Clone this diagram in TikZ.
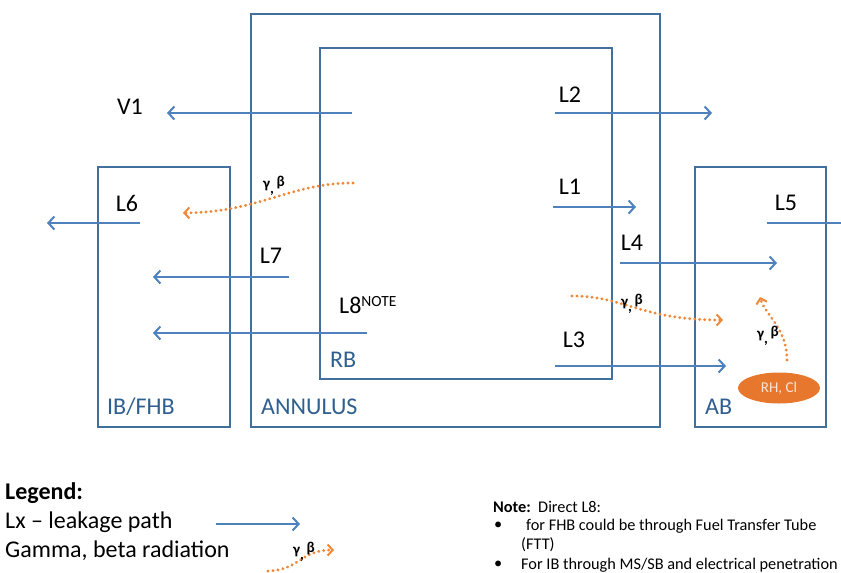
\documentclass[tikz,border=0pt]{standalone}
\usepackage{fontspec}
\setmainfont{Carlito}
\usetikzlibrary{arrows.meta,shapes.geometric}

\definecolor{zoneline}{HTML}{41709F}
\definecolor{leakblue}{HTML}{4F81BD}
\definecolor{zonetext}{HTML}{2F5F8F}
\definecolor{radorange}{HTML}{F0883A}
\definecolor{srcorange}{HTML}{E8772E}

\newcommand{\gammabeta}{γ\raisebox{-0.7ex}{,}\,\raisebox{0.25ex}{β}}

\tikzset{
  zone/.style={draw=zoneline, line width=2.2pt, anchor=north west, inner sep=0pt},
  zonelabel/.style={text=zonetext, anchor=west, font=\fontsize{24}{28}\selectfont, inner sep=0pt},
  pathlabel/.style={text=black, font=\fontsize{24}{28}\selectfont, inner sep=0pt},
  leak/.style={draw=leakblue, line width=2pt, -{Straight Barb[length=6pt,width=13pt,line width=2pt]}},
  rad/.style={draw=radorange, line width=3.2pt, dash pattern=on 0.01pt off 5pt, line cap=round,
    -{Straight Barb[length=5pt,width=11pt,line width=2pt]}},
  gb/.style={font=\fontsize{15}{17}\selectfont\bfseries, inner sep=0pt},
  legendtext/.style={anchor=west, font=\fontsize{24}{28}\selectfont, inner sep=0pt},
  notetext/.style={anchor=west, font=\fontsize{16.3}{19}\selectfont, inner sep=0pt},
}

\begin{document}
\begin{tikzpicture}[x=1pt,y=-1pt]
\useasboundingbox (0,0) rectangle (841,573);
\clip (0,0) rectangle (841,573);

% buildings
\node[zone, minimum width=409pt, minimum height=413pt] (annulus) at (250,13) {};
\node[zone, minimum width=292pt, minimum height=331pt] (rb) at (319,47) {};
\node[zone, minimum width=132pt, minimum height=260pt] (ibfhb) at (97,166) {};
\node[zone, minimum width=131pt, minimum height=260pt] (ab) at (694,166) {};

\node[zonelabel] (lblib) at (107,407) {IB/FHB};
\node[zonelabel] (lblann) at (261,407) {ANNULUS};
\node[zonelabel] (lblrb) at (330,360) {RB};
\node[zonelabel] (lblab) at (705,407) {AB};

% leakage path end points
\coordinate (v1s) at (352,113);  \coordinate (v1e) at (167,113);
\coordinate (l2s) at (555,113);  \coordinate (l2e) at (712,113);
\coordinate (l1s) at (553,207);  \coordinate (l1e) at (636,207);
\coordinate (l4s) at (620,263);  \coordinate (l4e) at (777,263);
\coordinate (l5s) at (767,223);  \coordinate (l5e) at (850,223);
\coordinate (l6s) at (140,223);  \coordinate (l6e) at (47,223);
\coordinate (l7s) at (289,277);  \coordinate (l7e) at (153,277);
\coordinate (l8s) at (367,333);  \coordinate (l8e) at (153,333);
\coordinate (l3s) at (555,366);  \coordinate (l3e) at (726,366);

\draw[leak] (v1s) -- (v1e);
\draw[leak] (l2s) -- (l2e);
\draw[leak] (l1s) -- (l1e);
\draw[leak] (l4s) -- (l4e);
\draw[leak] (l5s) -- (l5e);
\draw[leak] (l6s) -- (l6e);
\draw[leak] (l7s) -- (l7e);
\draw[leak] (l8s) -- (l8e);
\draw[leak] (l3s) -- (l3e);

\node[pathlabel] (tv1) at (130,107) {V1};
\node[pathlabel] (tl2) at (570,95) {L2};
\node[pathlabel] (tl1) at (570,187) {L1};
\node[pathlabel] (tl4) at (632,243) {L4};
\node[pathlabel] (tl5) at (786,203) {L5};
\node[pathlabel] (tl6) at (127,203) {L6};
\node[pathlabel] (tl7) at (271,256) {L7};
\node[pathlabel, anchor=west] (tl8) at (339,305) {L8\raisebox{0.55ex}{\fontsize{15.5}{17}\selectfont NOTE}};
\node[pathlabel] (tl3) at (574,340) {L3};

% gamma / beta radiation
\coordinate (r1s) at (353,183);  \coordinate (r1e) at (183,213);
\coordinate (r2s) at (572,296);  \coordinate (r2e) at (723,320);
\coordinate (r3s) at (787,360);  \coordinate (r3e) at (760,297);

\draw[rad] (r1s) .. controls (290,183) and (260,212) .. (r1e);
\draw[rad] (r2s) .. controls (625,296) and (640,320) .. (r2e);
\draw[rad] (r3s) .. controls (787,328) and (765,315) .. (r3e);

\node[gb] (g1) at (274,186) {\gammabeta};
\node[gb] (g2) at (632,304) {\gammabeta};
\node[gb] (g3) at (768,336) {\gammabeta};

\node[ellipse, fill=srcorange, minimum width=82pt, minimum height=31pt, inner sep=0pt,
      text=white!80!srcorange, font=\fontsize{15}{17}\selectfont] (src) at (779,388) {RH, Cl};

% legend
\node[legendtext, font=\fontsize{24}{28}\selectfont\bfseries] (leg) at (5,493) {Legend:};
\node[legendtext] (legl) at (5,522) {Lx – leakage path};
\node[legendtext] (legg) at (5,551) {Gamma, beta radiation};
\coordinate (lls) at (216,524); \coordinate (lle) at (300,524);
\draw[leak] (lls) -- (lle);
\coordinate (lrs) at (268,571); \coordinate (lre) at (334,550);
\draw[rad] (lrs) .. controls (300,570) and (300,550) .. (lre);
\node[gb] (g4) at (304,552) {\gammabeta};

% note
\node[notetext] (note) at (493,507) {\textbf{Note:}\ \ Direct L8:};
\node[notetext] (b1) at (494,526) {•};
\node[notetext] (n1) at (526,526) {for FHB could be through Fuel Transfer Tube};
\node[notetext] (n2) at (521,545) {(FTT)};
\node[notetext] (b2) at (494,565) {•};
\node[notetext] (n3) at (521,565) {For IB through MS/SB and electrical penetration};
\end{tikzpicture}
\end{document}
